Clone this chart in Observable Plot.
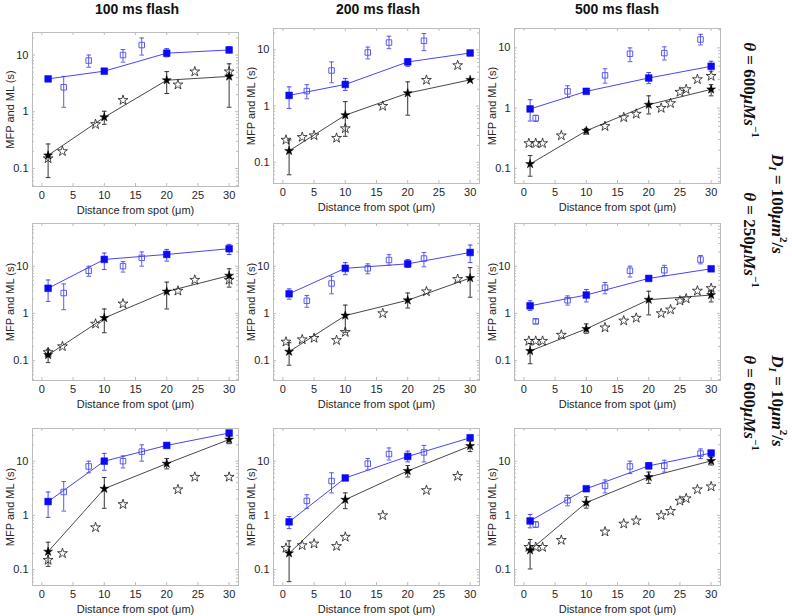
<!DOCTYPE html>
<html><head><meta charset="utf-8">
<script src="https://cdn.jsdelivr.net/npm/d3@7"></script>
<script src="https://cdn.jsdelivr.net/npm/@observablehq/plot@0.6"></script>
<style>
body{margin:0;background:#fff;}
#root{position:relative;width:792px;height:616px;overflow:hidden;font-family:"Liberation Sans",Arial,sans-serif;background:#fff;}
.panel{position:absolute;}
.title{position:absolute;font-weight:bold;font-size:14px;font-family:"Liberation Sans",Arial,sans-serif;color:#111;transform:translate(-50%,-50%);white-space:nowrap;}
.rlab{position:absolute;writing-mode:vertical-rl;font-weight:bold;font-size:17px;font-family:"Liberation Serif","Times New Roman",serif;color:#111;white-space:nowrap;transform:translateY(-50%);line-height:1;}
.rlab sup{font-size:0.65em;}
.rlab sub{font-size:0.65em;}
</style></head><body><div id="root"></div>
<script>
// ---------- data ----------
const titles = ["100 ms flash", "200 ms flash", "500 ms flash"];
const xTicks = [0, 5, 10, 15, 20, 25, 30];
const yTicks = [0.1, 1, 10];
const modelX = [1, 10, 20, 30];
// model MFP (blue filled squares), panels in row-major order
const mfpY  = [[3.8,5.2,10.8,12.3],[1.55,2.43,6.1,8.8],[0.97,1.9,3.16,4.95],
               [3.4,13.9,17.7,23.4],[2.6,9.0,11.2,19.5],[1.45,2.45,5.5,8.8],
               [1.8,10,19.5,33],[0.76,4.9,12.2,27],[0.79,3.1,8.2,14.1]];
const mfpLo = [[3.5,4.8,9.3,11],[0.91,1.9,5.1,null],[0.61,1.8,2.55,4.1],
               [1.8,8.5,12.8,17.7],[2.0,6.6,9.4,11.9],[1.16,1.75,5.0,8.0],
               [0.92,6.8,null,null],[0.57,null,9.7,24],[0.59,null,7.2,12.5]];
const mfpHi = [[4.1,5.6,13,14],[2.2,3.1,7.0,null],[1.38,2.0,3.9,6.0],
               [5.1,18.9,22.6,28.9],[3.3,11.9,13.8,28],[1.85,3.2,6.1,9.6],
               [2.7,13.9,null,null],[0.95,null,15.3,30],[1.04,null,9.4,15.8]];
// model ML (black filled stars)
const mlY  = [[0.17,0.8,3.6,4.2],[0.16,0.69,1.7,2.93],[0.118,0.42,1.14,2.05],
              [0.132,0.8,2.9,6.3],[0.155,0.9,1.9,5.6],[0.16,0.47,1.95,2.45],
              [0.215,3.1,9,25],[0.2,1.95,6.6,19],[0.228,1.72,5.1,10.1]];
const mlLo = [[0.069,0.6,2.1,1.2],[0.06,0.29,0.69,null],[0.074,0.37,0.8,1.6],
              [0.091,0.39,1.24,3.6],[0.08,0.4,1.3,2.2],[0.086,0.38,0.93,1.75],
              [0.115,1.35,7.2,21],[0.06,1.33,5.1,15],[0.103,1.36,3.9,8.5]];
const mlHi = [[0.27,1.02,5.1,7],[0.25,1.2,2.7,null],[0.163,0.46,1.6,2.45],
              [0.174,1.24,4.6,8.8],[0.24,1.5,2.7,9.3],[0.23,0.6,2.95,3.1],
              [0.32,5,11.2,29],[0.34,2.6,8.3,23.5],[0.36,2.2,6.3,11.7]];
// experimental MFP (open blue squares), per column
const expMfpX  = [[3.5,7.5,13,16],[3.84,7.8,13.6,17,22.6],[1.9,7,13,17,22.5,28.3]];
const expMfpY  = [[2.7,8,10,15],[1.85,4.3,9,13.5,14.5],[0.68,1.9,3.5,8,8.2,13.8]];
const expMfpLo = [[1.2,6.1,7.5,10],[1.35,2.6,6.9,10.5,9.7],[0.6,1.5,2.6,5.9,6.3,11.2]];
const expMfpHi = [[4.2,10,12.5,20],[2.4,6.1,11.2,17.5,19.5],[0.76,2.35,4.5,10,10.4,16.8]];
// experimental ML (open stars), per column
const expMlX = [[1,3.3,8.6,13,21.8,24.5,30],[0.5,3.1,5,8.6,10,16,23,28],
                [0.8,1.9,3,6,13,16,18,22,23.5,25,26,27.8,30]];
const expMlY = [[0.15,0.2,0.6,1.6,3.0,5.1,5.1],[0.25,0.28,0.3,0.27,0.4,1.0,2.9,5.3],
                [0.26,0.26,0.26,0.35,0.5,0.7,0.8,1.0,1.2,1.85,2.05,3.0,3.4]];
const yDomains = [[0.048,25],[0.042,24],[0.056,21],
                  [0.038,80],[0.038,80],[0.038,80],
                  [0.051,40],[0.051,40],[0.051,40]];

// ---------- layout ----------
const root = document.getElementById("root");
const colLeft = [32, 273, 514];
const rowTop = [28, 223, 428];
const W = 206;
const gray = "#bcbcbc";
const cap = {draw(ctx, size){ const w = Math.sqrt(size); ctx.moveTo(-w/2,0); ctx.lineTo(w/2,0); }};

function panel(i){
  const r = Math.floor(i/3), c = i%3;
  const H = r===0 ? (i===0 ? 154 : 155) : 157;
  const L = colLeft[c], T = (i===0 ? 32 : rowTop[r]);
  const mL = 40, mR = 3, mT = 3, mB = 34;
  const model = modelX.map((x,k)=>({x, mfp: mfpY[i][k], mfpLo: mfpLo[i][k], mfpHi: mfpHi[i][k],
                                     ml: mlY[i][k], mlLo: mlLo[i][k], mlHi: mlHi[i][k]}));
  const mfpErr = model.filter(d=>d.mfpLo!=null);
  const mlErr = model.filter(d=>d.mlLo!=null);
  const expM = expMfpX[c].map((x,k)=>({x, y: expMfpY[c][k], lo: expMfpLo[c][k], hi: expMfpHi[c][k]}));
  const expL = expMlX[c].map((x,k)=>({x, y: expMlY[c][k]}));
  const dom = yDomains[i];
  const minor = [];
  for (let e=-2; e<=1; e++) for (let m=2; m<=9; m++){ const v = +(m*Math.pow(10,e)).toPrecision(6); if (v>=dom[0] && v<=dom[1]) minor.push(v); }
  const blueErr = "#4a4af5", expBlue = "#5a5af0", blk = "#1a1a1a";
  const fig = Plot.plot({
    width: W+mL+mR, height: H+mT+mB,
    marginLeft: mL, marginRight: mR, marginTop: mT, marginBottom: mB,
    style: {fontFamily: "Liberation Sans, Arial, sans-serif", fontSize: "11px", color: "#262626", background: "transparent", overflow: "visible"},
    x: {domain: [-1.5, 31.5]},
    y: {type: "log", domain: dom},
    marks: [
      Plot.frame({stroke: gray}),
      Plot.tickX(xTicks, {x: d=>d, insetTop: H-3, stroke: gray}),
      Plot.tickX(xTicks, {x: d=>d, insetBottom: H-3, stroke: gray}),
      Plot.tickY(yTicks, {y: d=>d, insetRight: W-3, stroke: gray}),
      Plot.tickY(yTicks, {y: d=>d, insetLeft: W-3, stroke: gray}),
      Plot.tickY(minor, {y: d=>d, insetRight: W-2, stroke: gray}),
      Plot.tickY(minor, {y: d=>d, insetLeft: W-2, stroke: gray}),
      Plot.axisX(xTicks, {tickSize: 0, tickPadding: 5, label: "Distance from spot (μm)", labelAnchor: "center", labelOffset: 27, labelArrow: "none"}),
      Plot.axisY(yTicks, {tickSize: 0, tickPadding: 4, tickFormat: d=>String(d), label: "MFP and ML (s)", labelAnchor: "center", labelOffset: 26, labelArrow: "none"}),
      // experimental MFP
      Plot.ruleX(expM, {x: "x", y1: "lo", y2: "hi", stroke: expBlue, strokeWidth: 1}),
      Plot.dot(expM, {x: "x", y: "lo", symbol: cap, r: 2.6, stroke: expBlue, strokeWidth: 1}),
      Plot.dot(expM, {x: "x", y: "hi", symbol: cap, r: 2.6, stroke: expBlue, strokeWidth: 1}),
      Plot.dot(expM, {x: "x", y: "y", symbol: "square", r: 3.1, fill: "none", stroke: expBlue, strokeWidth: 1}),
      // model MFP
      Plot.ruleX(mfpErr, {x: "x", y1: "mfpLo", y2: "mfpHi", stroke: blueErr, strokeWidth: 1}),
      Plot.dot(mfpErr, {x: "x", y: "mfpLo", symbol: cap, r: 2.6, stroke: blueErr, strokeWidth: 1}),
      Plot.dot(mfpErr, {x: "x", y: "mfpHi", symbol: cap, r: 2.6, stroke: blueErr, strokeWidth: 1}),
      Plot.line(model, {x: "x", y: "mfp", stroke: "#4646f8", strokeWidth: 1}),
      Plot.dot(model, {x: "x", y: "mfp", symbol: "square", r: 3.8, fill: "#0a0af5", stroke: "#0a0af5", strokeWidth: 0.5}),
      // model ML
      Plot.ruleX(mlErr, {x: "x", y1: "mlLo", y2: "mlHi", stroke: "#333", strokeWidth: 1}),
      Plot.dot(mlErr, {x: "x", y: "mlLo", symbol: cap, r: 2.6, stroke: "#333", strokeWidth: 1}),
      Plot.dot(mlErr, {x: "x", y: "mlHi", symbol: cap, r: 2.6, stroke: "#333", strokeWidth: 1}),
      Plot.line(model, {x: "x", y: "ml", stroke: "#333", strokeWidth: 0.9}),
      // experimental ML
      Plot.dot(expL, {x: "x", y: "y", symbol: "star", r: 3.1, fill: "none", stroke: blk, strokeWidth: 0.8}),
      Plot.dot(model, {x: "x", y: "ml", symbol: "star", r: 2.8, fill: "#000", stroke: "#000", strokeWidth: 0.5})
    ]
  });
  const div = document.createElement("div");
  div.className = "panel";
  div.style.left = (L - mL) + "px";
  div.style.top = (T - mT) + "px";
  div.appendChild(fig);
  root.appendChild(div);
}
for (let i=0; i<9; i++) panel(i);

const titleX = [137, 378, 617];
titles.forEach((t,c)=>{
  const d = document.createElement("div");
  d.className = "title"; d.textContent = t;
  d.style.left = titleX[c] + "px"; d.style.top = "9px";
  root.appendChild(d);
});

function rlab(html, left, cy){
  const d = document.createElement("div");
  d.className = "rlab"; d.innerHTML = html;
  d.style.left = left + "px"; d.style.top = cy + "px";
  root.appendChild(d);
}
rlab("<i>θ</i> = 600<i>μMs</i><sup>−1</sup>", 741, 90);
rlab("<i>D<sub>I</sub></i> = 100<i>μm</i><sup>2</sup>/<i>s</i>", 767, 204);
rlab("<i>θ</i> = 250<i>μMs</i><sup>−1</sup>", 741, 240);
rlab("<i>D<sub>I</sub></i> = 10<i>μm</i><sup>2</sup>/<i>s</i>", 767, 401);
rlab("<i>θ</i> = 600<i>μMs</i><sup>−1</sup>", 741, 403);
</script></body></html>
